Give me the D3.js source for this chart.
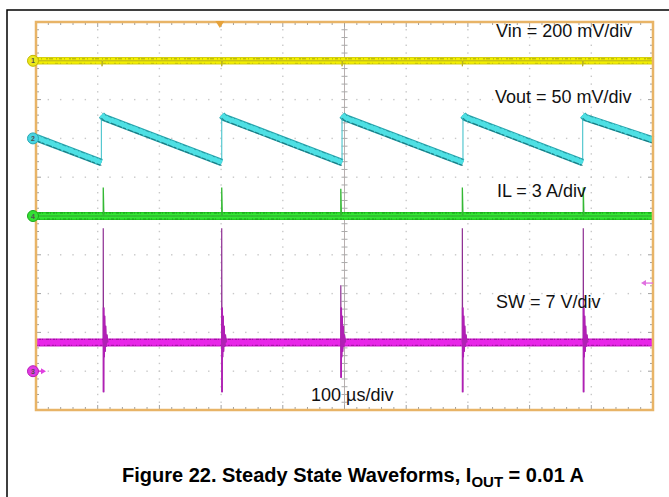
<!DOCTYPE html>
<html><head><meta charset="utf-8">
<script src="https://cdn.jsdelivr.net/npm/d3@7"></script>
<style>
body{margin:0;background:#fff}
svg{display:block}
text{font-family:"Liberation Sans",Arial,Helvetica,sans-serif}
</style>
</head><body>
<svg id="c" width="669" height="497"></svg>
<script>
// ---------- data ----------
// time axis: 100 µs/div, 10 divisions
const timeRange = [0, 1000];                 // µs
const channelNames = ["1", "2", "4", "3"];
const channelLabels = ["Vin = 200 mV/div", "Vout = 50 mV/div", "IL = 3 A/div", "SW = 7 V/div"];
const channelOffsets = [4.0, 2.0, 0.0, -4.0]; // divisions from centre (ground markers)
const channelScales = [200, 50, 3, 7];       // units per division
const timeLabel = "100 µs/div";

// Vin (mV relative to marker)
const vinT = [0, 107, 107, 108, 301, 301, 302, 496, 496, 497, 691, 691, 692, 886, 886, 887, 1000];
const vinV = [0, 0, -28, 0, 0, -28, 0, 0, -28, 0, 0, -28, 0, 0, -28, 0, 0];

// Vout ripple (mV relative to marker)
const voutT = [0, 106, 106, 110, 301, 301, 305, 496, 496, 500, 692, 692, 696, 886, 886, 890, 1000];
const voutV = [1, -31, 30, 27, -31, 30, 27, -31, 30, 27, -31, 30, 27, -31, 30, 27, -2];

// IL (A)
const ilBase = 0;
const ilT = [0, 109, 109, 110, 301, 301, 302, 494, 494, 495, 691, 691, 692, 887, 887, 888, 1000];
const ilV = [0, 0, 2.2, 0, 0, 2.2, 0, 0, 2.1, 0, 0, 2.2, 0, 0, 2.2, 0, 0];

// SW (V)
const swBase = 5.2;
const swEvents = [109, 301, 494, 691, 887];
const swPeaks = [25.8, 25.8, 15.5, 25.8, 25.8];
const swLows = [-3.8, -3.8, -1.2, -3.8, -3.8];
const ringDt = [0.6, 1.3, 2.0, 2.8, 3.6, 4.5, 5.6, 7.0];
const ringV = [11.5, 2.5, 10.0, 3.5, 8.2, 4.4, 6.6, 5.2];
const swTrigLevel = 15.9;        // V, right-edge arrow
const trigTime = 298;            // µs, top triangle

// ---------- drawing ----------
const W = 669, H = 497;
const svg = d3.select("#c");
svg.append("rect").attr("width", W).attr("height", H).attr("fill", "#fff");

const L = 36, R = 653, T = 22, B = 410;
const x = d3.scaleLinear().domain(timeRange).range([L, R]);
const yDiv = d3.scaleLinear().domain([-5, 5]).range([B, T]);
const yCh = (ch, v) => yDiv(channelOffsets[ch] + v / channelScales[ch]);

// outer frame
svg.append("path").attr("d", `M7,${H} V10 H${W}`)
  .attr("fill", "none").attr("stroke", "#000").attr("stroke-width", 1.5);

// grid dots
const minorT = d3.range(0, 1000.01, 20);
const minorD = d3.range(-5, 5.001, 0.2);
const majorT = [100, 200, 300, 400, 600, 700, 800, 900];
const majorD = [-4, -3, -2, -1, 1, 2, 3, 4];
const g = svg.append("g");
majorD.forEach(d => minorT.forEach(t => {
  g.append("rect").attr("x", x(t) - 0.7).attr("y", yDiv(d) - 0.7)
    .attr("width", 1.4).attr("height", 1.4).attr("fill", "#c8c8c8");
}));
majorT.forEach(t => minorD.forEach(d => {
  g.append("rect").attr("x", x(t) - 0.7).attr("y", yDiv(d) - 0.7)
    .attr("width", 1.4).attr("height", 1.4).attr("fill", "#c8c8c8");
}));
// centre axes
g.append("line").attr("x1", x(500)).attr("x2", x(500)).attr("y1", T).attr("y2", B)
  .attr("stroke", "#b8b0b0").attr("stroke-width", 1);
g.append("line").attr("x1", L).attr("x2", R).attr("y1", yDiv(0)).attr("y2", yDiv(0))
  .attr("stroke", "#b8b0b0").attr("stroke-width", 1);
minorD.forEach(d => g.append("line").attr("x1", x(500) - 3).attr("x2", x(500) + 3)
  .attr("y1", yDiv(d)).attr("y2", yDiv(d)).attr("stroke", "#aaa"));
minorT.forEach(t => g.append("line").attr("x1", x(t)).attr("x2", x(t))
  .attr("y1", yDiv(0) - 3).attr("y2", yDiv(0) + 3).attr("stroke", "#aaa"));

// border ticks
minorT.forEach((t, i) => {
  const len = (i % 5 === 0) ? 5 : 3;
  g.append("line").attr("x1", x(t)).attr("x2", x(t)).attr("y1", T).attr("y2", T + len).attr("stroke", "#a0a0a0");
  g.append("line").attr("x1", x(t)).attr("x2", x(t)).attr("y1", B).attr("y2", B - len).attr("stroke", "#a0a0a0");
});
minorD.forEach((d, i) => {
  const len = (i % 5 === 0) ? 5 : 3;
  g.append("line").attr("x1", L).attr("x2", L + len).attr("y1", yDiv(d)).attr("y2", yDiv(d)).attr("stroke", "#a0a0a0");
  g.append("line").attr("x1", R).attr("x2", R - len).attr("y1", yDiv(d)).attr("y2", yDiv(d)).attr("stroke", "#a0a0a0");
});

const line = d3.line();
function band(pts, colors, widths, speck) {
  colors.forEach((c, i) => svg.append("path").attr("d", line(pts)).attr("fill", "none")
    .attr("stroke", c).attr("stroke-width", widths[i]).attr("stroke-linecap", "butt").attr("stroke-linejoin", "round"));
  if (speck) {
    speck.forEach(s => svg.append("path").attr("d", line(pts)).attr("fill", "none")
      .attr("transform", `translate(0,${s.dy})`)
      .attr("stroke", s.c).attr("stroke-width", s.w).attr("stroke-opacity", s.o)
      .attr("stroke-dasharray", s.dash));
  }
}

// Vin (yellow)
const vinPts = vinT.map((t, i) => [x(t), yCh(0, vinV[i])]);
band([[x(0), yCh(0, 0)], [x(1000), yCh(0, 0)]], ["#d4cf10", "#f3f000"], [7.5, 5.5],
  [{dy: -2, c: "#6e6a20", w: 1, o: 0.55, dash: "3 2 1 4 2 1 4 3 1 2"},
   {dy: 2.5, c: "#8a8620", w: 1, o: 0.4, dash: "1 5 2 3 1 7 3 2"}]);
svg.append("path").attr("d", line(vinPts)).attr("fill", "none").attr("stroke", "#b8b020").attr("stroke-width", 1);

// Vout (cyan) – split into ramps and thin jump edges
{
  let seg = [];
  const segs = [], jumps = [];
  voutT.forEach((t, i) => {
    const p = [x(t), yCh(1, voutV[i])];
    if (i > 0 && t === voutT[i - 1]) {
      segs.push(seg); jumps.push([[x(t), yCh(1, voutV[i - 1])], p]); seg = [p];
    } else seg.push(p);
  });
  segs.push(seg);
  jumps.forEach(j => svg.append("path").attr("d", line(j)).attr("stroke", "#56c8d0").attr("stroke-width", 1.2).attr("fill", "none"));
  segs.forEach(s => band(s, ["#2aa8b0", "#4ee0e4"], [7.5, 5.5],
    [{dy: -2.8, c: "#10606a", w: 1, o: 0.4, dash: "2 3 1 2 4 2 1 5"},
     {dy: 3, c: "#0a5058", w: 1.2, o: 0.6, dash: "5 1 3 2 6 1"}]));
}

// IL (green)
band([[x(0), yCh(2, ilBase)], [x(1000), yCh(2, ilBase)]], ["#23c823", "#33e733"], [8, 5.5],
  [{dy: -3, c: "#0e6e0e", w: 1.2, o: 0.6, dash: "1 2 2 1 1 3 3 1"},
   {dy: 3, c: "#0e6e0e", w: 1.2, o: 0.55, dash: "2 1 1 4 1 2 3 2"},
   {dy: 0, c: "#149a14", w: 1, o: 0.35, dash: "1 6 2 4"}]);
svg.append("path").attr("d", line(ilT.map((t, i) => [x(t), yCh(2, ilV[i])])))
  .attr("fill", "none").attr("stroke", "#34b834").attr("stroke-width", 1.3);

// SW (magenta)
band([[x(0), yCh(3, swBase)], [x(1000), yCh(3, swBase)]], ["#cc18cc", "#e826e8"], [8, 5.5],
  [{dy: -3, c: "#7a0c7a", w: 1.2, o: 0.55, dash: "1 2 2 1 1 3 3 1"},
   {dy: 3, c: "#7a0c7a", w: 1.2, o: 0.5, dash: "2 1 1 4 1 2 3 2"}]);
swEvents.forEach((te, k) => {
  const pts = [[x(te), yCh(3, swBase)], [x(te), yCh(3, swPeaks[k])], [x(te) + 0.3, yCh(3, swLows[k])]];
  ringDt.forEach((dt, i) => pts.push([x(te + dt), yCh(3, ringV[i])]));
  svg.append("path").attr("d", line(pts)).attr("fill", "none")
    .attr("stroke", "#8e2e92").attr("stroke-width", 1.2).attr("stroke-linejoin", "miter");
  svg.append("path").attr("d", line(pts.slice(2))).attr("fill", "none")
    .attr("stroke", "#b020b4").attr("stroke-width", 1.8);
});

// border
svg.append("rect").attr("x", L).attr("y", T).attr("width", R - L).attr("height", B - T)
  .attr("fill", "none").attr("stroke", "#e8b467").attr("stroke-width", 2.5);

// trigger position triangle
svg.append("path")
  .attr("d", `M${x(trigTime) - 4.5},${T - 1} L${x(trigTime) + 4.5},${T - 1} L${x(trigTime)},${T + 6} Z`)
  .attr("fill", "#e6a23a");

// trigger level arrow (right)
const ty = yCh(3, swTrigLevel);
svg.append("line").attr("x1", R).attr("x2", R - 10).attr("y1", ty).attr("y2", ty).attr("stroke", "#e070e0").attr("stroke-width", 1.3);
svg.append("path").attr("d", `M${R - 12},${ty} L${R - 7},${ty - 3} L${R - 7},${ty + 3} Z`).attr("fill", "#e070e0");

// channel markers
const markerFill = ["#ece81a", "#48d4e0", "#34e034", "#e23ae2"];
const markerStroke = ["#c2b800", "#2aa8b4", "#1aa81a", "#b81cb8"];
channelNames.forEach((n, i) => {
  const cy = yDiv(channelOffsets[i]);
  if (i === 3) {
    svg.append("line").attr("x1", 36).attr("x2", 42).attr("y1", cy).attr("y2", cy).attr("stroke", "#e040e0").attr("stroke-width", 1.5);
    svg.append("path").attr("d", `M46,${cy} L41,${cy - 3} L41,${cy + 3} Z`).attr("fill", "#e040e0");
  }
  svg.append("circle").attr("cx", 33).attr("cy", cy).attr("r", 5.5)
    .attr("fill", markerFill[i]).attr("stroke", markerStroke[i]).attr("stroke-width", 1);
  svg.append("text").attr("x", 33).attr("y", cy + 2.5).attr("text-anchor", "middle")
    .attr("font-size", 7).attr("font-weight", "bold").attr("fill", "#505050").text(n);
});

// channel labels
const labelPos = [[496, 37], [495, 103], [497, 197], [496, 308]];
channelLabels.forEach((s, i) => {
  svg.append("text").attr("x", labelPos[i][0]).attr("y", labelPos[i][1])
    .attr("font-size", 18).attr("fill", "#111").text(s);
});
svg.append("text").attr("x", 311).attr("y", 401).attr("font-size", 18).attr("fill", "#111").text(timeLabel);

// caption
const cap = svg.append("text").attr("x", 122).attr("y", 482).attr("font-size", 20)
  .attr("font-weight", "bold").attr("fill", "#000");
cap.append("tspan").text("Figure 22. Steady State Waveforms, I");
cap.append("tspan").attr("font-size", 15).attr("dy", 5).text("OUT");
cap.append("tspan").attr("dy", -5).text(" = 0.01 A");
</script>
</body></html>
